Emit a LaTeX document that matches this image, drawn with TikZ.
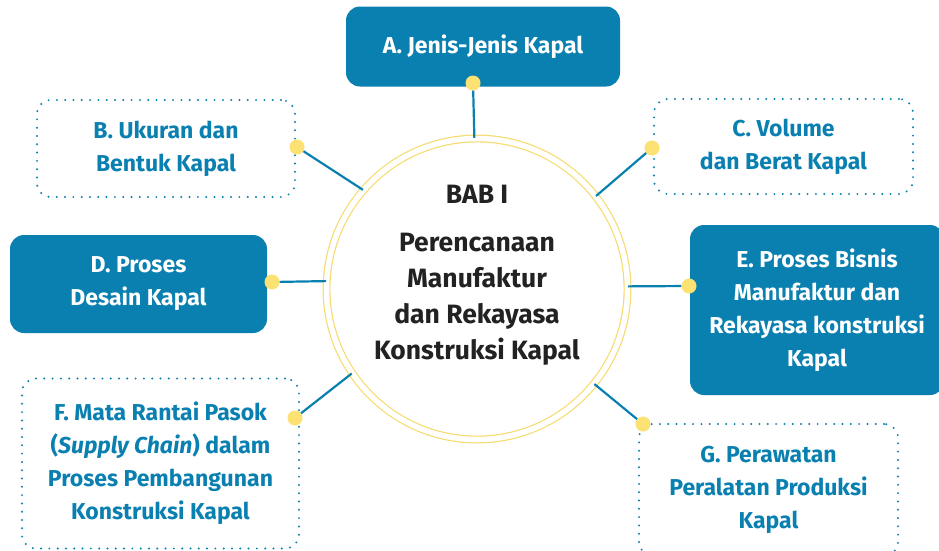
\documentclass[tikz,border=0pt]{standalone}
\usepackage{fontspec}
\setmainfont{Fira Sans}
\definecolor{babblue}{HTML}{0A80B0}
\definecolor{babring}{HTML}{F6DC70}
\definecolor{babpin}{HTML}{FCE173}
\definecolor{babtext}{HTML}{222222}

\begin{document}
\begin{tikzpicture}[x=1pt, y=-1pt,
  subbox/.style={rounded corners=14pt, align=center, inner sep=0pt,
    font=\bfseries\fontsize{23}{33}\selectfont},
  filled/.style={subbox, fill=babblue, text=white},
  dotbox/.style={subbox, draw=babblue, line width=2.2pt, line cap=round,
    dash pattern=on 0pt off 8.3pt, text=babblue},
  pin/.style={circle, fill=babpin, minimum size=15pt, inner sep=0pt},
  spoke/.style={draw=babblue, line width=2.2pt}]
%\draw [help lines] (0,0) grid[step=50] (939,550);
\useasboundingbox (0,0) rectangle (939,550);

% Centre
\node[circle, draw=babring, line width=1.2pt, double=white, double distance=5.5pt,
      minimum size=301pt]                                        (bab) at (477,289) {};
\node[align=center, text=babtext, font=\bfseries\fontsize{26.5}{36}\selectfont]
                                                                 (babtitle) at (477,275)
  {BAB I\\[12pt]Perencanaan\\Manufaktur\\dan Rekayasa\\Konstruksi Kapal};

% Sub chapters
\node[filled, minimum width=274pt, minimum height=80pt]  (subA) at (483,46.5)  {A. Jenis-Jenis Kapal};
\node[dotbox, minimum width=258pt, minimum height=97pt]  (subB) at (166,148.5) {B. Ukuran dan\\Bentuk Kapal};
\node[dotbox, minimum width=259pt, minimum height=95pt]  (subC) at (783.5,146.5) {C. Volume\\dan Berat Kapal};
\node[filled, minimum width=257pt, minimum height=98pt]  (subD) at (138.5,284) {D. Proses\\Desain Kapal};
\node[filled, minimum width=254pt, minimum height=170pt] (subE) at (817,310)   {E. Proses Bisnis\\Manufaktur dan\\Rekayasa konstruksi\\Kapal};
\node[dotbox, minimum width=277pt, minimum height=170pt] (subF) at (160.5,463.5) {F. Mata Rantai Pasok\\(\textit{Supply Chain}) dalam\\Proses Pembangunan\\Konstruksi Kapal};
\node[dotbox, minimum width=259pt, minimum height=132pt] (subG) at (768.5,490) {G. Perawatan\\Peralatan Produksi\\Kapal};

% Pins
\node[pin] (pinA) at (473,83)  {};
\node[pin] (pinB) at (297,147) {};
\node[pin] (pinC) at (652,148) {};
\node[pin] (pinD) at (272,282) {};
\node[pin] (pinE) at (689,286) {};
\node[pin] (pinF) at (295,418) {};
\node[pin] (pinG) at (643,424) {};

% Edges
\draw[spoke] (pinA) -- (bab.91.5);
\draw[spoke] (pinB) -- (bab.139.8);
\draw[spoke] (pinC) -- (bab.38.6);
\draw[spoke] (pinD) -- (bab.177.3);
\draw[spoke] (pinE) -- (bab.1.1);
\draw[spoke] (pinF) -- (bab.214.2);
\draw[spoke] (pinG) -- (bab.321.2);
\end{tikzpicture}
\end{document}
